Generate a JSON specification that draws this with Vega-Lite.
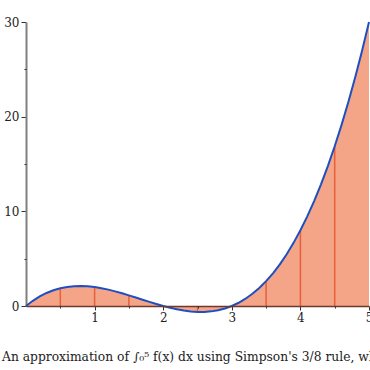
{
  "$schema": "https://vega.github.io/schema/vega-lite/v6.json",
  "width": 343,
  "height": 284,
  "autosize": "none",
  "padding": {"left": 26, "top": 22, "right": 1, "bottom": 64},
  "config": {
    "view": {"stroke": null},
    "font": "DejaVu Serif",
    "axis": {"labelFont": "DejaVu Serif", "labelFontSize": 12, "labelColor": "#222", "grid": false, "title": null}
  },
  "title": {
    "text": "An approximation of ∫₀⁵ f(x) dx using Simpson's 3/8 rule, where n = 10",
    "orient": "bottom",
    "anchor": "start",
    "frame": "group",
    "dx": -24,
    "offset": 28,
    "font": "DejaVu Serif",
    "fontSize": 12.3,
    "fontWeight": "normal",
    "color": "#222"
  },
  "datasets": {
    "curve": [
      {"x": 0, "f": 0}, {"x": 0.1, "f": 0.551}, {"x": 0.2, "f": 1.008}, {"x": 0.3, "f": 1.377}, {"x": 0.4, "f": 1.664},
      {"x": 0.5, "f": 1.875}, {"x": 0.6, "f": 2.016}, {"x": 0.7, "f": 2.093}, {"x": 0.8, "f": 2.112}, {"x": 0.9, "f": 2.079},
      {"x": 1.0, "f": 2}, {"x": 1.1, "f": 1.881}, {"x": 1.2, "f": 1.728}, {"x": 1.3, "f": 1.547}, {"x": 1.4, "f": 1.344},
      {"x": 1.5, "f": 1.125}, {"x": 1.6, "f": 0.896}, {"x": 1.7, "f": 0.663}, {"x": 1.8, "f": 0.432}, {"x": 1.9, "f": 0.209},
      {"x": 2.0, "f": 0}, {"x": 2.1, "f": -0.189}, {"x": 2.2, "f": -0.352}, {"x": 2.3, "f": -0.483}, {"x": 2.4, "f": -0.576},
      {"x": 2.5, "f": -0.625}, {"x": 2.6, "f": -0.624}, {"x": 2.7, "f": -0.567}, {"x": 2.8, "f": -0.448}, {"x": 2.9, "f": -0.261},
      {"x": 3.0, "f": 0}, {"x": 3.1, "f": 0.341}, {"x": 3.2, "f": 0.768}, {"x": 3.3, "f": 1.287}, {"x": 3.4, "f": 1.904},
      {"x": 3.5, "f": 2.625}, {"x": 3.6, "f": 3.456}, {"x": 3.7, "f": 4.403}, {"x": 3.8, "f": 5.472}, {"x": 3.9, "f": 6.669},
      {"x": 4.0, "f": 8}, {"x": 4.1, "f": 9.471}, {"x": 4.2, "f": 11.088}, {"x": 4.3, "f": 12.857}, {"x": 4.4, "f": 14.784},
      {"x": 4.5, "f": 16.875}, {"x": 4.6, "f": 19.136}, {"x": 4.7, "f": 21.573}, {"x": 4.8, "f": 24.192}, {"x": 4.9, "f": 27.001},
      {"x": 5.0, "f": 30}
    ],
    "nodes": [
      {"x": 0.5, "f": 1.875}, {"x": 1.0, "f": 2}, {"x": 1.5, "f": 1.125}, {"x": 2.0, "f": 0}, {"x": 2.5, "f": -0.625},
      {"x": 3.0, "f": 0}, {"x": 3.5, "f": 2.625}, {"x": 4.0, "f": 8}, {"x": 4.5, "f": 16.875}
    ]
  },
  "layer": [
    {
      "data": {"name": "curve"},
      "mark": {"type": "area", "color": "#f4a487", "opacity": 1},
      "encoding": {
        "x": {"field": "x", "type": "quantitative", "scale": {"domain": [0, 5], "nice": false},
          "axis": {"values": [1, 2, 3, 4, 5], "tickSize": 4, "tickColor": "#333", "domainColor": "#6b3a2a", "domainWidth": 1.5, "labelPadding": 2, "labelFlush": false, "zindex": 1}},
        "y": {"field": "f", "type": "quantitative", "scale": {"domain": [0, 30], "nice": false, "zero": true},
          "axis": {"values": [0, 10, 20, 30], "tickSize": 5, "tickColor": "#333", "domainColor": "#808080", "domainWidth": 2, "labelPadding": 2, "labelFlush": false}}
      }
    },
    {
      "data": {"name": "nodes"},
      "mark": {"type": "rule", "color": "#e8603a", "strokeWidth": 1.5},
      "encoding": {
        "x": {"field": "x", "type": "quantitative",
          "axis": {"orient": "bottom", "values": [0.5, 1.5, 2.5, 3.5, 4.5], "tickSize": 2, "tickColor": "#333", "labels": false, "domain": false, "zindex": 1}},
        "y": {"field": "f", "type": "quantitative",
          "axis": {"orient": "left", "values": [5, 15, 25], "tickSize": 2, "tickColor": "#333", "labels": false, "domain": false}},
        "y2": {"datum": 0}
      }
    },
    {
      "data": {"name": "curve"},
      "mark": {"type": "line", "color": "#1f4fbf", "strokeWidth": 2},
      "encoding": {
        "x": {"field": "x", "type": "quantitative", "axis": null},
        "y": {"field": "f", "type": "quantitative", "axis": null}
      }
    }
  ],
  "resolve": {"axis": {"x": "independent", "y": "independent"}}
}
